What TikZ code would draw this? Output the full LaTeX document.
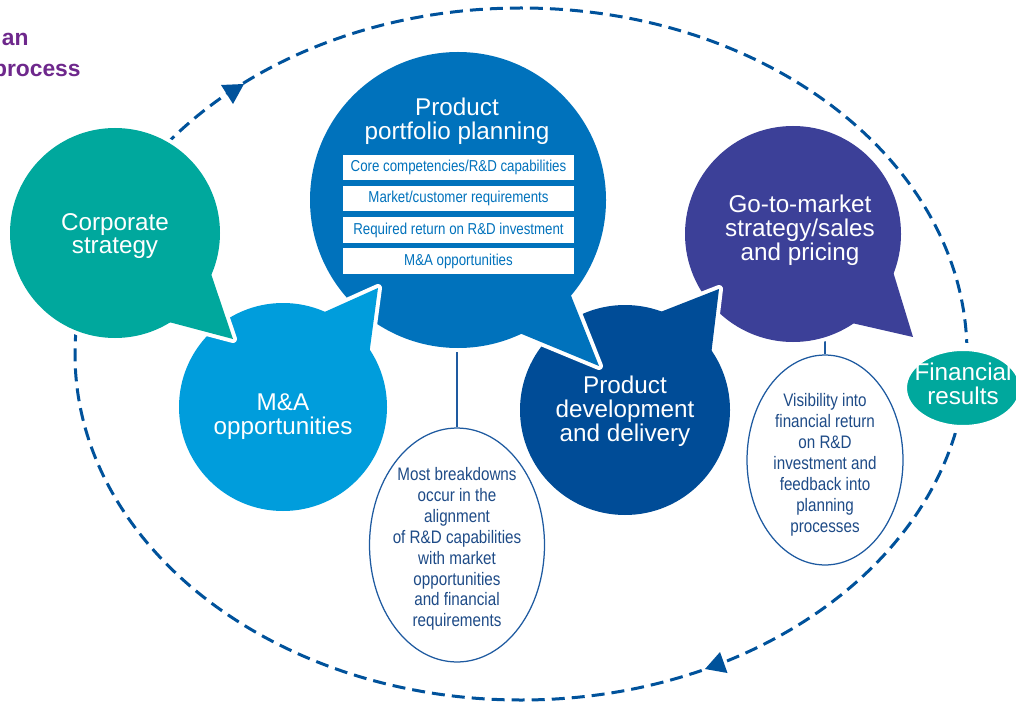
\documentclass[tikz,border=0pt]{standalone}
\usepackage{fontspec}
\setmainfont{Liberation Sans}
\newfontfamily\narrowfont[FakeStretch=0.84]{Liberation Sans}
\usetikzlibrary{shapes.geometric}
\definecolor{tealc}{RGB}{0,168,157}
\definecolor{mablue}{RGB}{0,157,220}
\definecolor{pfblue}{RGB}{0,114,188}
\definecolor{devblue}{RGB}{0,76,151}
\definecolor{gtmpurple}{RGB}{60,64,152}
\definecolor{dashblue}{RGB}{0,82,155}
\definecolor{callline}{RGB}{30,90,160}
\definecolor{calltext}{RGB}{30,75,135}
\definecolor{headpurple}{RGB}{110,40,140}
\newcommand{\speechbubble}[4]{%
  \draw[halo] #2 circle (#3) #4;
  \fill[#1] #2 circle (#3);
  \fill[#1] #4;
}
\begin{document}
\begin{tikzpicture}[x=0.02cm,y=-0.02cm,
  halo/.style={draw=white,line width=0.16cm,line join=round},
  titletext/.style={text=white,align=center,inner sep=0pt,font=\fontsize{13.8}{13.6}\selectfont},
  pfbox/.style={fill=white,minimum width=4.62cm,minimum height=0.52cm,inner sep=0pt,text=pfblue,font=\narrowfont\fontsize{9}{10}\selectfont},
  calloutshape/.style={ellipse,draw=callline,line width=0.025cm,fill=white,inner sep=0pt},
  callouttext/.style={text=calltext,align=center,inner sep=0pt,font=\narrowfont\fontsize{10.3}{11.9}\selectfont},
  calloutlink/.style={draw=callline,line width=0.025cm},
  cycleline/.style={draw=dashblue,line width=0.06cm,dash pattern=on 7.4pt off 4pt},
  headtext/.style={text=headpurple,inner sep=0pt,font=\bfseries\fontsize{13}{14}\selectfont},
]
\useasboundingbox (0,0) rectangle (1016,702);
\clip (0,0) rectangle (1016,702);

% cycle
\draw[cycleline] (521,354) ellipse [x radius=446, y radius=346];
\fill[dashblue] (244,84) -- (221,85) -- (233,104) -- cycle;
\fill[dashblue] (705,669) -- (720,652) -- (727.5,673) -- cycle;

% callouts
\node[calloutshape,minimum width=3.5cm,minimum height=4.68cm] (call1) at (457,545) {};
\node[callouttext] (call1text) at (457,549) {Most breakdowns\\occur in the\\alignment\\of R\&D capabilities\\with market\\opportunities\\and financial\\requirements};
\node[calloutshape,minimum width=3.12cm,minimum height=4.2cm] (call2) at (825,460) {};
\node[callouttext] (call2text) at (825,465) {Visibility into\\financial return\\on R\&D\\investment and\\feedback into\\planning\\processes};
\coordinate (pflink) at (457,320);
\coordinate (gtmlink) at (825,320);
\draw[calloutlink] (pflink) -- (call1.north);
\draw[calloutlink] (gtmlink) -- (call2.north);

% bubbles, back to front
\speechbubble{gtmpurple}{(793,234)}{108}{(887,252)--(913,337)--(830,318)--cycle}
\speechbubble{devblue}{(625,410)}{105}{(640,320)--(719,289)--(708,380)--cycle}
\speechbubble{pfblue}{(458,200)}{148}{(560,268)--(599,366)--(500,325)--cycle}
\speechbubble{mablue}{(283,407)}{104}{(300,323)--(378,288)--(366,378)--cycle}
\speechbubble{tealc}{(115,233)}{105}{(205,256)--(233,339)--(150,317)--cycle}

% financial results
\draw[halo,fill=tealc] (963,388) ellipse [x radius=60, y radius=41];

% portfolio boxes
\node[pfbox] (box1) at (458.5,167.5) {Core competencies/R\&D capabilities};
\node[pfbox] (box2) at (458.5,198.5) {Market/customer requirements};
\node[pfbox] (box3) at (458.5,230) {Required return on R\&D investment};
\node[pfbox] (box4) at (458.5,261) {M\&A opportunities};

% titles
\node[titletext] (pf) at (457,121) {Product\\portfolio planning};
\node[titletext] (corp) at (115,236) {Corporate\\strategy};
\node[titletext] (ma) at (283,417) {M\&A\\opportunities};
\node[titletext] (dev) at (625,411) {Product\\development\\and delivery};
\node[titletext] (gtm) at (800,230) {Go-to-market\\strategy/sales\\and pricing};
\node[titletext] (fin) at (963,384) {Financial\\results};

% clipped heading
\node[headtext,anchor=base east] (head1) at (29,46) {an};
\node[headtext,anchor=base east] (head2) at (81,77) {process};
\end{tikzpicture}
\end{document}
